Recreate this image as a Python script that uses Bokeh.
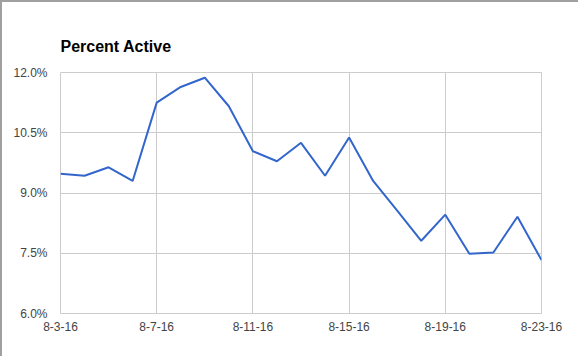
from bokeh.plotting import figure
from bokeh.models import FixedTicker, NumeralTickFormatter, Range1d
from bokeh.embed import file_html
from bokeh.resources import INLINE

dates = ["8-3-16", "8-4-16", "8-5-16", "8-6-16", "8-7-16", "8-8-16", "8-9-16",
         "8-10-16", "8-11-16", "8-12-16", "8-13-16", "8-14-16", "8-15-16",
         "8-16-16", "8-17-16", "8-18-16", "8-19-16", "8-20-16", "8-21-16",
         "8-22-16", "8-23-16"]
percent_active = [9.48, 9.43, 9.64, 9.30, 11.25, 11.64, 11.87, 11.16, 10.04,
                  9.79, 10.25, 9.43, 10.38, 9.30, 8.56, 7.81, 8.46, 7.49,
                  7.52, 8.41, 7.33]
y_ticks = [6.0, 7.5, 9.0, 10.5, 12.0]
x_tick_labels = ["8-3-16", "8-7-16", "8-11-16", "8-15-16", "8-19-16", "8-23-16"]

x = list(range(len(dates)))
x_ticks = [dates.index(d) for d in x_tick_labels]
y_vals = [v / 100 for v in percent_active]

FONT = "Liberation Sans"

p = figure(width=578, height=356, output_backend="svg", toolbar_location=None,
           x_range=Range1d(0, len(dates) - 1), y_range=Range1d(0.06, 0.12),
           min_border_left=58, min_border_right=39, min_border_top=70,
           min_border_bottom=45, title="Percent Active")
p.styles = {"border-left": "2px solid #a0a0a0", "border-top": "2px solid #a0a0a0"}

p.title.text_font = FONT
p.title.text_font_size = "16px"
p.title.text_font_style = "bold"
p.title.text_color = "#000000"
p.title.align = "left"
p.title.standoff = 35

p.line(x, y_vals, line_color="#3366cc", line_width=2)

p.xaxis.ticker = FixedTicker(ticks=x_ticks)
p.xaxis.major_label_overrides = {i: dates[i] for i in x_ticks}
p.yaxis.ticker = FixedTicker(ticks=[t / 100 for t in y_ticks])
p.yaxis.formatter = NumeralTickFormatter(format="0.0%")

for ax in (p.xaxis[0], p.yaxis[0]):
    ax.axis_line_color = None
    ax.major_tick_line_color = None
    ax.minor_tick_line_color = None
    ax.major_tick_out = 0
    ax.major_tick_in = 0
    ax.major_label_text_font = FONT
    ax.major_label_text_font_size = "12px"
    ax.major_label_text_color = "#444444"
p.xaxis.major_label_standoff = 8
p.yaxis.major_label_standoff = 13

p.xgrid.ticker = FixedTicker(ticks=x_ticks)
p.grid.grid_line_color = "#cccccc"
p.grid.grid_line_width = 1
p.outline_line_color = "#cccccc"
p.background_fill_color = "white"
p.border_fill_color = "white"

open("out.html", "w").write(file_html(p, INLINE))
